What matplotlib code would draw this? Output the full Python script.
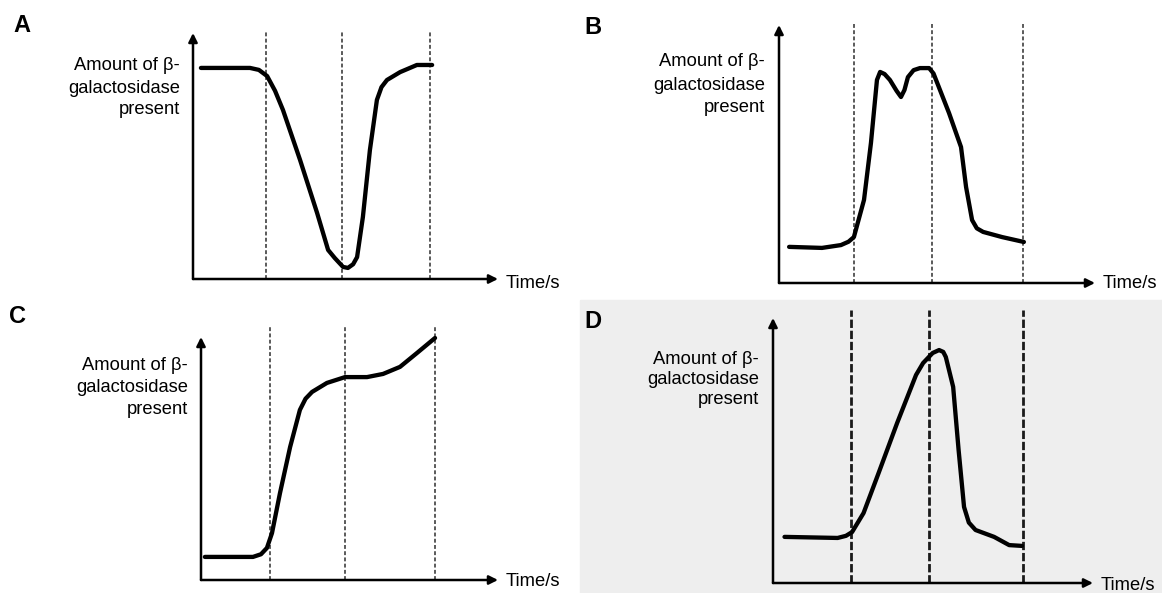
import numpy as np
import matplotlib
matplotlib.use('Agg')
import matplotlib.pyplot as plt
from matplotlib.patches import Rectangle

plt.rcParams['font.family'] = ['Liberation Sans', 'DejaVu Sans']

# curves, time and amount both on a 0-100 scale
a_time = [2.6, 18.7, 21.6, 24.3, 26.9, 29.5, 35.1, 40.7, 44.3, 46.5, 49.2, 50.8, 52.5, 53.8, 55.7,
          58.0, 60.3, 61.8, 63.6, 67.9, 73.4, 78.4]
a_amount = [85.8, 85.8, 85.0, 82.5, 76.5, 68.7, 48.4, 26.8, 11.8, 8.5, 4.9, 4.5, 6.0, 8.9, 25.2,
            52.4, 72.8, 78.0, 80.9, 84.1, 87.0, 87.0]
a_marks = [23.9, 48.9, 77.7]

b_time = [3.2, 13.6, 19.6, 22.0, 23.7, 26.9, 29.1, 31.0, 32.0, 33.4, 35.1, 37.2, 38.6, 39.7, 40.8,
          42.6, 44.6, 47.5, 48.9, 49.7, 53.8, 57.6, 59.2, 61.1, 62.6, 64.6, 70.6, 77.5]
b_amount = [14.0, 13.6, 14.7, 16.0, 17.8, 32.2, 54.3, 78.7, 81.8, 81.0, 78.7, 74.5, 72.1, 74.8, 79.8,
            82.5, 83.3, 83.3, 81.2, 78.7, 65.9, 52.7, 37.2, 24.4, 21.2, 19.8, 17.8, 15.9]
b_marks = [23.7, 48.4, 77.2]

c_time = [1.3, 17.5, 20.2, 22.2, 23.9, 26.6, 30.0, 33.3, 35.2, 37.4, 42.4, 48.5, 55.9, 61.3, 67.0,
          72.7, 78.8]
c_amount = [9.5, 9.5, 10.6, 13.2, 19.3, 35.8, 54.7, 70.0, 74.6, 77.4, 81.1, 83.5, 83.5, 84.8, 87.7,
            93.4, 99.6]
c_marks = [23.2, 48.5, 78.8]

d_time = [3.6, 20.2, 22.8, 24.7, 28.3, 33.0, 38.8, 44.7, 46.9, 49.9, 51.9, 53.2, 54.0, 56.3, 58.0,
          59.7, 61.2, 63.3, 69.1, 73.8, 77.8]
d_amount = [17.4, 17.0, 17.8, 19.2, 26.4, 41.5, 60.4, 78.5, 83.0, 86.8, 87.9, 87.2, 85.3, 74.0, 50.2,
            28.7, 22.8, 20.0, 17.4, 14.3, 14.0]
d_marks = [24.4, 48.8, 78.1]

panel_letters = ['A', 'B', 'C', 'D']
ylabel_lines = ['Amount of β-', 'galactosidase', 'present']
xlabel = 'Time/s'

W, H = 1162, 593
fig = plt.figure(figsize=(W / 100, H / 100), dpi=100)

# grey stippled backdrop behind panel D
fig.patches.append(Rectangle((580 / W, 0), 1 - 580 / W, 293 / H, transform=fig.transFigure,
                             color='#eeeeee', zorder=-5))

# panel boxes in pixels: left, right, bottom, top of the axis arrows
boxes = [(193, 498, 279, 33), (779, 1095, 283, 25), (201, 498, 580, 337), (773, 1093, 583, 318)]
label_right = [180, 765, 188, 759]
label_ys = [(66, 88, 110), (62, 85, 108), (366, 388, 410), (360, 380, 400)]
letter_xy = [(22, 25), (593, 27), (18, 317), (593, 321)]
xlabel_y = [283, 284, 581, 585]
mark_top = [101, 101, 104, 103]

data = [(a_time, a_amount, a_marks), (b_time, b_amount, b_marks),
        (c_time, c_amount, c_marks), (d_time, d_amount, d_marks)]

for i, (t, amt, marks) in enumerate(data):
    l, r, b, top = boxes[i]
    ax = fig.add_axes([l / W, 1 - b / H, (r - l) / W, (b - top) / H])
    ax.set_xlim(0, 100)
    ax.set_ylim(0, 100)
    ax.axis('off')
    ax.patch.set_alpha(0)

    # axis arrows
    ax.annotate('', xy=(100, 0), xytext=(0, 0),
                arrowprops=dict(arrowstyle='-|>', lw=1.8, color='black', mutation_scale=13, shrinkA=0, shrinkB=0))
    ax.annotate('', xy=(0, 100), xytext=(0, 0),
                arrowprops=dict(arrowstyle='-|>', lw=1.8, color='black', mutation_scale=13, shrinkA=0, shrinkB=0))

    # dashed time markers
    for m in marks:
        if i == 3:
            ax.plot([m, m], [0, mark_top[i]], color='#1a1a1a', lw=2.0, dashes=(3, 1), clip_on=False)
        else:
            ax.plot([m, m], [0, mark_top[i]], color='#5a5a5a', lw=1.4, dashes=(2, 1.2), clip_on=False)

    ax.plot(t, amt, color='black', lw=3.1, solid_joinstyle='round', solid_capstyle='round', clip_on=False)

    for line, y in zip(ylabel_lines, label_ys[i]):
        fig.text(label_right[i] / W, 1 - y / H, line, ha='right', va='center', fontsize=13.2)
    fig.text((r + 8) / W, 1 - xlabel_y[i] / H, xlabel, ha='left', va='center', fontsize=13.2)
    fig.text(letter_xy[i][0] / W, 1 - letter_xy[i][1] / H, panel_letters[i],
             ha='center', va='center', fontsize=17, fontweight='bold')

fig.savefig('out.png', dpi=100)
